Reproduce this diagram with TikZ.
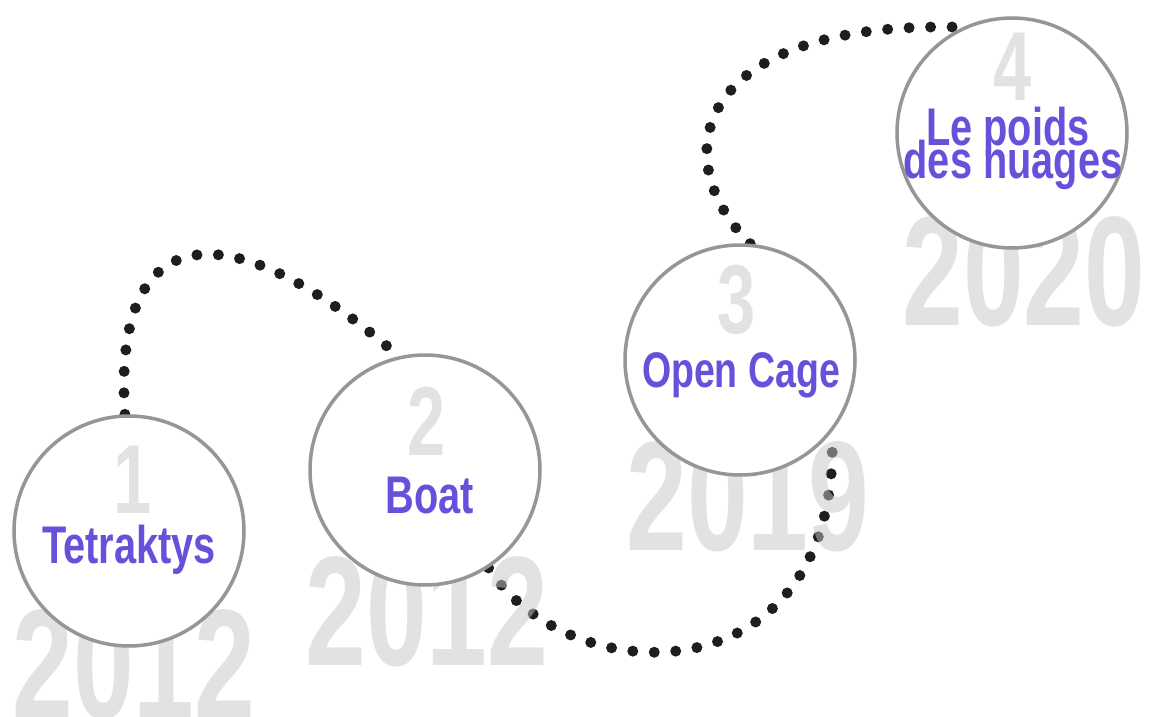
\documentclass[tikz,border=0pt]{standalone}
\usepackage{fontspec}
\newfontfamily\yearfont[FakeStretch=0.7]{Liberation Sans}
\newfontfamily\titlefont[FakeStretch=0.75]{Liberation Sans}
\definecolor{ttl}{RGB}{102,82,218}
\definecolor{ringgray}{RGB}{150,150,150}
\definecolor{yeargray}{RGB}{198,198,198}
\definecolor{numgray}{RGB}{226,226,226}
\definecolor{dotc}{RGB}{30,30,30}
\pgfdeclarelayer{bg}
\pgfdeclarelayer{dots}
\pgfdeclarelayer{years}
\pgfsetlayers{bg,dots,years,main}
\begin{document}
\begin{tikzpicture}[x=1pt,y=-1pt,
  stage/.style={circle, draw=ringgray, line width=3.5pt, fill=white, minimum size=230pt, inner sep=0pt},
  yr/.style={anchor=base, text=yeargray, text opacity=0.5, inner sep=0pt, font=\yearfont\bfseries\fontsize{156}{156}\selectfont},
  num/.style={anchor=base, text=numgray, inner sep=0pt, font=\yearfont\bfseries\fontsize{98}{98}\selectfont},
  ttlst/.style={anchor=base, text=ttl, inner sep=0pt, font=\titlefont\bfseries\fontsize{53}{53}\selectfont},
  dotline/.style={draw=dotc, line width=11pt, line cap=round, dash pattern=on 0pt off 21.5pt}
]
\useasboundingbox (0,0) rectangle (1152,717);
\begin{pgfonlayer}{bg}
\fill[white] (0,0) rectangle (1152,717);
\end{pgfonlayer}

% circles
\node[stage] (c1) at (129,531) {};
\node[stage] (c2) at (425,470) {};
\node[stage] (c3) at (740,360) {};
\node[stage] (c4) at (1012,133) {};

% numbers
\node[num] (n1) at (133,513) {1};
\node[num] (n2) at (427,455) {2};
\node[num] (n3) at (737,333) {3};
\node[num] (n4) at (1013,100) {4};

% titles
\node[ttlst] (t1) at (129,563) {Tetraktys};
\node[ttlst] (t2) at (430,513) {Boat};
\node[ttlst, font=\titlefont\bfseries\fontsize{50}{50}\selectfont] (t3) at (741,387) {Open Cage};
\node[ttlst] (t4a) at (1008,145) {Le poids};
\node[ttlst] (t4b) at (1013,178) {des nuages};

% years
\begin{pgfonlayer}{years}
\node[yr] (y1) at (134,718) {2012};
\node[yr] (y2) at (427,665) {2012};
\node[yr] (y3) at (748,550) {2019};
\node[yr] (y4) at (1024,325) {2020};
\end{pgfonlayer}

% dotted connectors
\begin{pgfonlayer}{dots}
\draw[dotline] (c1.92) .. controls (112,220) and (225,205) .. (c2.103);
\draw[dotline] (c2.-57) .. controls (570,695) and (842,700) .. (c3.-38);
\draw[dotline] (c3.85) .. controls (665,160) and (690,20) .. (c4.115);
\end{pgfonlayer}
\end{tikzpicture}
\end{document}
